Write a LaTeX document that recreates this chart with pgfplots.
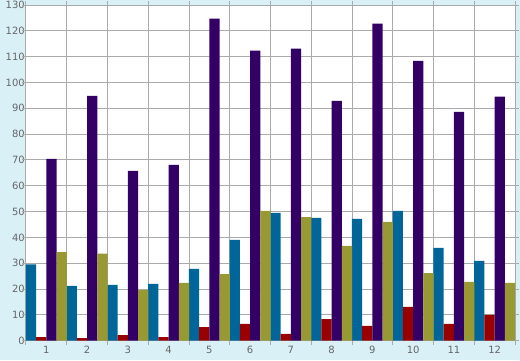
\documentclass[border=0pt]{standalone}
\usepackage{pgfplots}
\pgfplotsset{compat=1.18}
\usepackage{fontspec}
\setmainfont{DejaVu Sans}
\definecolor{bgblue}{HTML}{D9F0F7}
\definecolor{sblue}{HTML}{006699}
\definecolor{sred}{HTML}{990000}
\definecolor{spurple}{HTML}{330066}
\definecolor{solive}{HTML}{999933}
\definecolor{gridgray}{HTML}{AAAAAA}
\definecolor{labgray}{HTML}{666666}
\begin{document}
\begin{tikzpicture}
\fill[bgblue] (-26pt,-19.3pt) rectangle (494pt,340.7pt);
\begin{axis}[
  scale only axis,
  width=489pt, height=335.7pt,
  at={(0pt,0pt)}, anchor=south west,
  axis background/.style={fill=white},
  axis line style={draw=none},
  xmin=0.5, xmax=12.5,
  ymin=0, ymax=130,
  ytick={0,10,...,130},
  xtick={1,...,12},
  minor xtick={0.5,1.5,...,12.5},
  xminorgrids=true, ymajorgrids=true,
  grid style={gridgray, line width=1pt},
  minor grid style={gridgray, line width=1pt},
  major tick length=0pt,
  minor tick length=4pt,
  tick align=outside,
  tick style={gridgray, line width=1pt},
  x tick style={gridgray, line width=1pt},
  extra y ticks={0,10,...,130},
  extra y tick labels={},
  extra y tick style={major tick length=4pt, grid=none},
  ticklabel style={font=\fontsize{10}{11}\selectfont, text=labgray},
  /pgf/number format/assume math mode=true,
  yticklabel style={xshift=0pt, inner sep=1pt},
  xticklabel style={yshift=-2pt},
  ybar=0pt,
  bar width=10.19pt,
]
\addplot[fill=sblue, draw=none] coordinates {(1,29.6) (2,21.2) (3,21.6) (4,22.0) (5,27.8) (6,39.0) (7,49.5) (8,47.6) (9,47.2) (10,50.3) (11,35.9) (12,30.9)};
\addplot[fill=sred, draw=none] coordinates {(1,1.4) (2,1.0) (3,2.2) (4,1.4) (5,5.3) (6,6.5) (7,2.6) (8,8.4) (9,5.7) (10,13.1) (11,6.5) (12,10.0)};
\addplot[fill=spurple, draw=none] coordinates {(1,70.4) (2,94.8) (3,65.8) (4,68.1) (5,124.7) (6,112.3) (7,113.1) (8,92.9) (9,122.8) (10,108.4) (11,88.6) (12,94.5)};
\addplot[fill=solive, draw=none] coordinates {(1,34.3) (2,33.7) (3,19.6) (4,22.4) (5,25.8) (6,50.3) (7,47.9) (8,36.7) (9,46.0) (10,26.2) (11,22.8) (12,22.4)};
\end{axis}
\pgfresetboundingbox
\useasboundingbox (-26pt,-19.3pt) rectangle (494pt,340.7pt);
\end{tikzpicture}
\end{document}
